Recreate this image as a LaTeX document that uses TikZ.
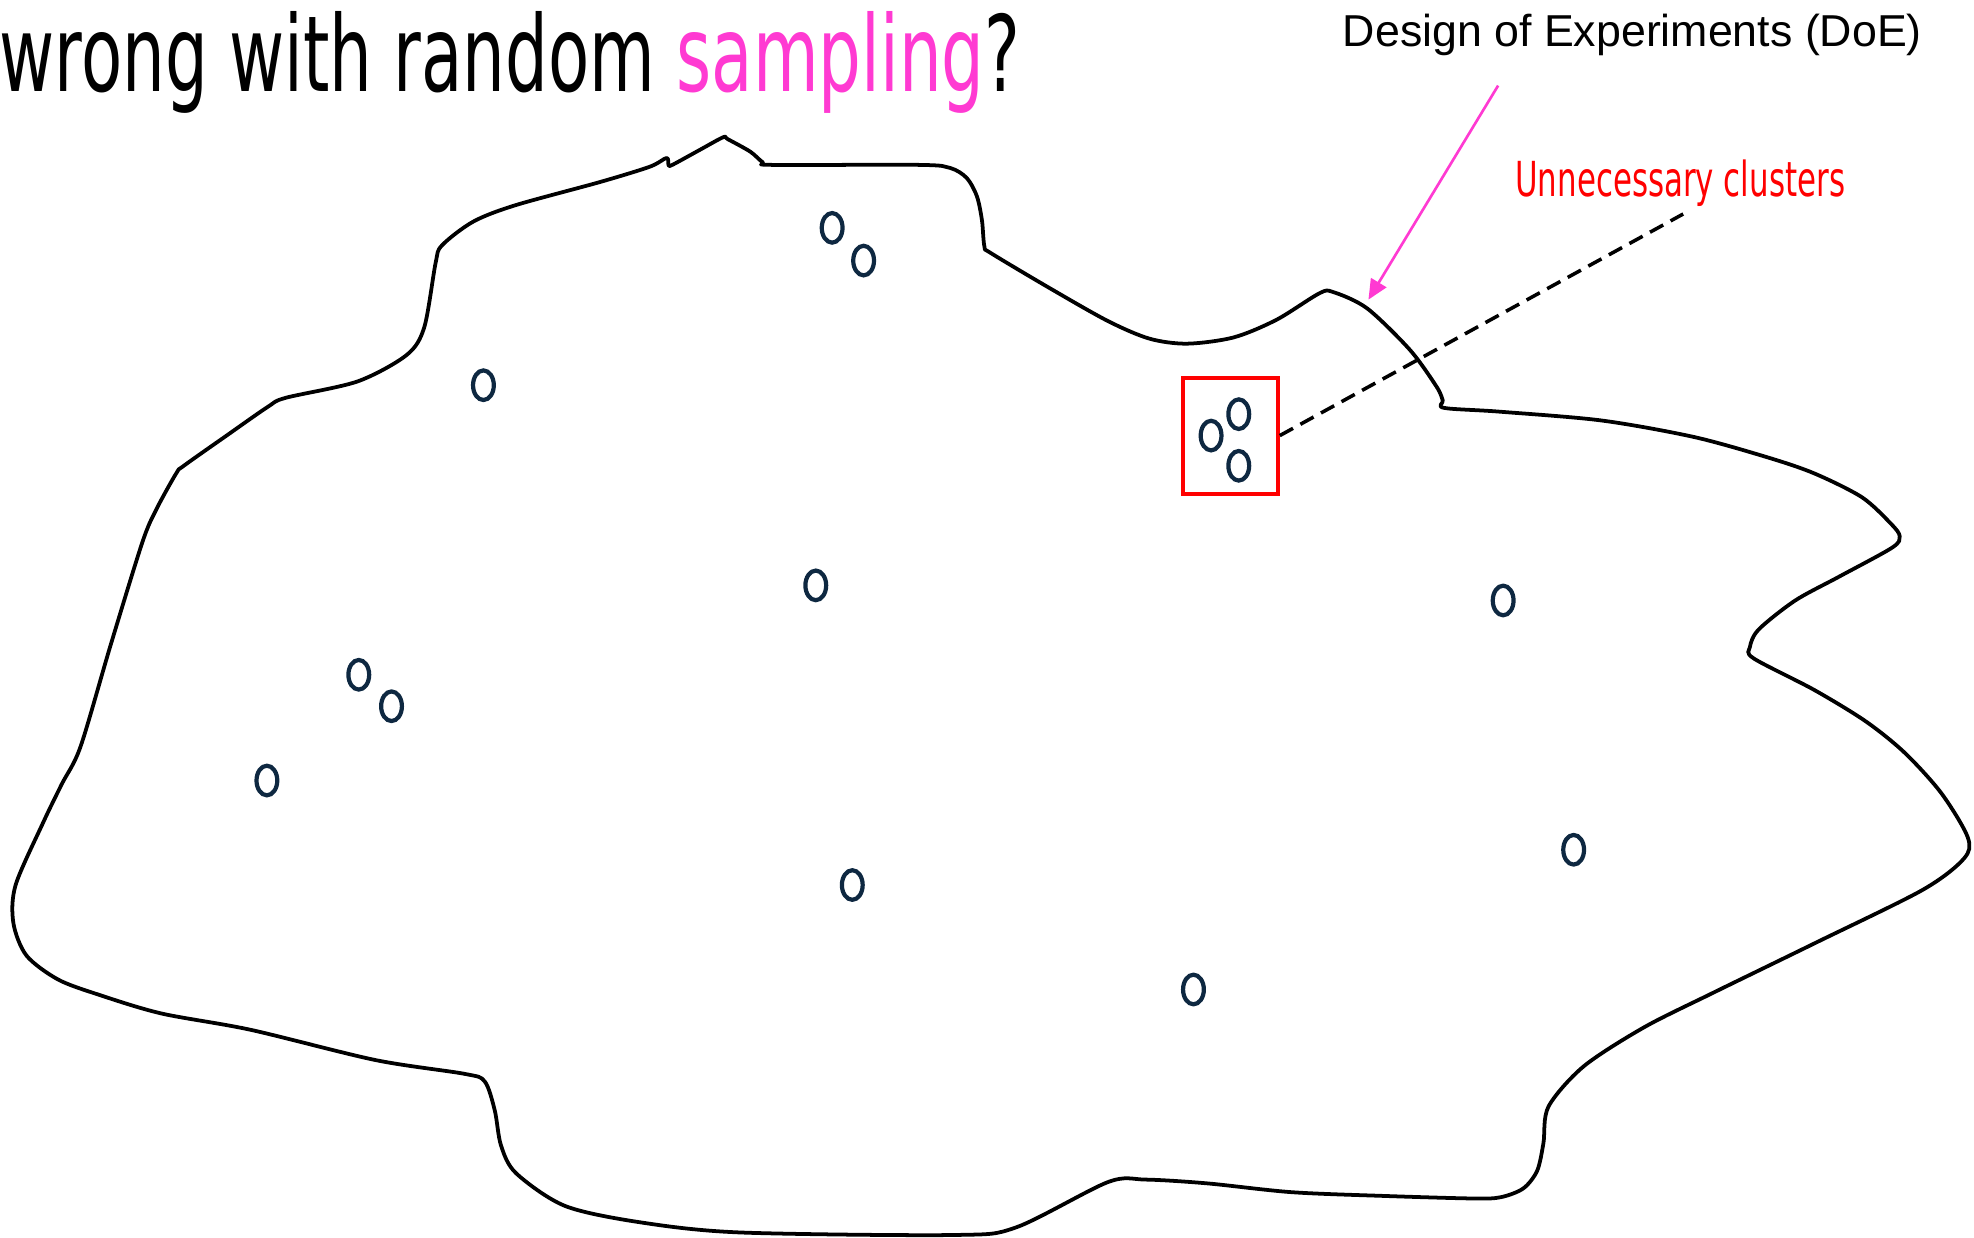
\documentclass[tikz,border=0pt]{standalone}
\usepackage{fontspec}
\setmainfont{Liberation Sans}
\newfontfamily\narrowfont[FakeStretch=0.64]{DejaVu Sans}
\usetikzlibrary{shapes.geometric,arrows.meta}
\definecolor{dotblue}{HTML}{0E2841}
\definecolor{doepink}{HTML}{FF3AD2}

\begin{document}
\begin{tikzpicture}[x=0.01cm, y=-0.01cm,
  sample/.style={draw=dotblue, line width=0.95pt, ellipse, minimum width=0.165cm, minimum height=0.235cm, inner sep=0pt},
  blob/.style={line width=0.85pt, line join=round}]
  \useasboundingbox (0,0) rectangle (1568,983);

  % title and labels
  \node[anchor=base west, inner sep=0pt] (T) at (-1,73) {\narrowfont\fontsize{23.8}{27}\selectfont wrong with random \textcolor{doepink}{sampling}?};
  \node[anchor=base west, inner sep=0pt] (D) at (1066,37) {\fontsize{10.1}{12}\selectfont Design of Experiments (DoE)};
  \node[anchor=base west, inner sep=0pt, red] (U) at (1203,156) {\narrowfont\fontsize{10.9}{13}\selectfont Unnecessary clusters};

  % design space
  \draw[blob] plot[smooth cycle, tension=0.5] coordinates {
    (476.6,144.6) (516,132.5) (529.5,125.5) (531,131) (534,131) (556,119) (574.5,109) (578,110.5)
    (596,120.5) (606,129) (614,131) (731,131) (755,133.5) (768,141.5) (776,156) (780,175) (782,196)
    (787,201) (834,229) (880,255) (913,269) (943,273) (980,268) (1014,254) (1048,233) (1059,232)
    (1086,245) (1120,278) (1141,307) (1146,318) (1147,324) (1191,327) (1272,334) (1345,347)
    (1403,363) (1441,376) (1479,395) (1502,416) (1509,426) (1503,435) (1461,458) (1426,477)
    (1397,500) (1390,514) (1393,523) (1441,548) (1482,573) (1513,598) (1542,630) (1563,665)
    (1560,682) (1527,707) (1442,749) (1360,789) (1306,816) (1258,847) (1230,879) (1226,908)
    (1221,930) (1210,944) (1192,951) (1170,952) (1100,950) (1026,947) (959,940) (910,937) (880,939)
    (807,975) (758,981) (588,979) (509,971) (449,958) (410,932) (398,910) (393,882) (385,859)
    (369,853) (298,842) (199,818) (128,805) (78,790) (46,778) (21,759) (10.6,733) (12.4,703)
    (34,654) (49,623) (64,593) (88,512) (113,431) (124,405) (140,376) (146,370) (180,346) (213,323)
    (227,316) (284,303) (323,282) (337,260) (346,209) (351,195) (376,176) (409.5,163)};

  % random samples
  \node[sample] (A) at (661,181) {};
  \node[sample] (B) at (686,207) {};
  \node[sample] (C) at (384,306) {};
  \node[sample] (E) at (648,465) {};
  \node[sample] (F) at (285,536) {};
  \node[sample] (G) at (311,561) {};
  \node[sample] (H) at (212,620) {};
  \node[sample] (I) at (677,703) {};
  \node[sample] (J) at (948,786) {};
  \node[sample] (K) at (1194,477) {};
  \node[sample] (L) at (1250,675) {};

  % cluster
  \node[sample] (M) at (962,346) {};
  \node[sample] (N) at (984,329) {};
  \node[sample] (O) at (984,370) {};
  \node[draw=red, line width=0.9pt, minimum width=0.75cm, minimum height=0.92cm] (R) at (977.5,346) {};

  \coordinate (uend) at (1337,170);
  \draw[line width=0.8pt, dash pattern=on 3.4pt off 1.9pt] (R.east) -- (uend);

  \coordinate (dstart) at (1190,68);
  \coordinate (dtip) at (1087,238);
  \draw[doepink, line width=0.6pt, -{Triangle[length=4.5pt, width=4pt]}] (dstart) -- (dtip);
\end{tikzpicture}
\end{document}
